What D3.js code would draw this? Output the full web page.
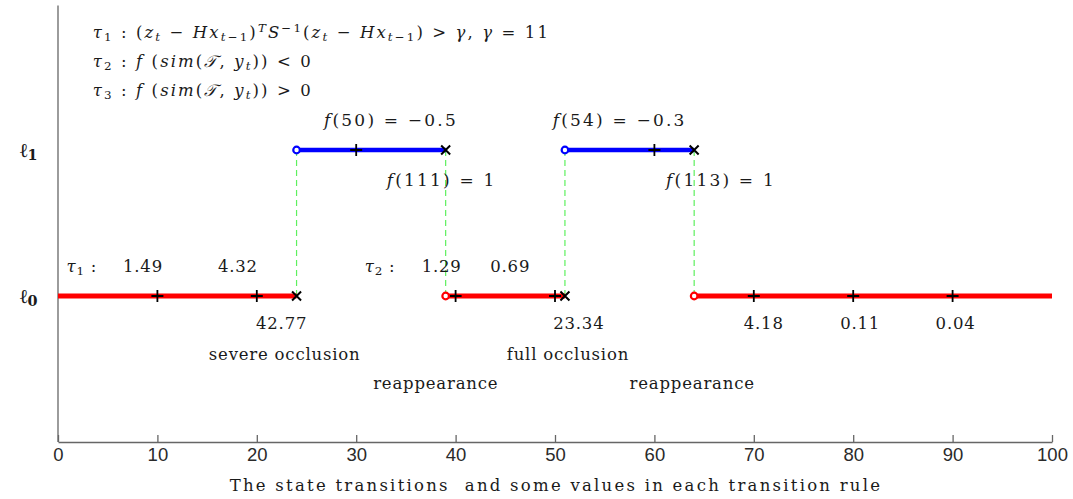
<!DOCTYPE html>
<html><head><meta charset="utf-8">
<script src="https://cdn.jsdelivr.net/npm/d3@7"></script>
<style>
body{margin:0;background:#fff;}
.serif{font-family:"DejaVu Serif",serif;fill:#1a1a1a;white-space:pre;}
</style></head>
<body><svg id="c" width="1073" height="499"></svg>
<script>
// ---- helpers for math-like text ----
const I = s => "<tspan font-style='italic'>"+s+"</tspan>";
const SUB = s => "<tspan baseline-shift='-3' font-size='72%'>"+s+"</tspan>";
const SUP = s => "<tspan baseline-shift='6' font-size='72%'>"+s+"</tspan>";
const TAU = I("τ");

// ---- data ----
const xTicks = [0,10,20,30,40,50,60,70,80,90,100];
const levels = [0,1];                       // ℓ0, ℓ1
const levelLabels = ["ℓ"+SUB("0"),"ℓ"+SUB("1")];
const l0Segments = [[0,24],[39,51],[64,100]];
const l1Segments = [[24,39],[51,64]];
const plusL0 = [10,20,40,50,70,80,90];
const plusL1 = [30,60];
const crossL0 = [24,51];
const crossL1 = [39,64];
const circleL0 = [39,64];
const circleL1 = [24,51];
const transitions = [24,39,51,64];
const ruleValuesAbove = [[TAU+SUB("1")+" :",2.4],["1.49",8.55],["4.32",18.1],[TAU+SUB("2")+" :",32.4],["1.29",38.6],["0.69",45.5]];
const ruleValuesBelow = [["42.77",22.5],["23.34",52.4],["4.18",71.0],["0.11",80.7],["0.04",90.3]];
const events = [["severe occlusion",22.8,-0.40],["full occlusion",51.3,-0.40],["reappearance",38.0,-0.60],["reappearance",63.8,-0.60]];
const fValues = [[I("f")+"(50) = −0.5",33.5,1.205],[I("f")+"(54) = −0.3",56.5,1.205],
                 [I("f")+"(111) = 1",38.6,0.795],[I("f")+"(113) = 1",66.7,0.795]];
const rules = [
  TAU+SUB("1")+" : ("+I("z")+SUB(I("t"))+" − "+I("Hx")+SUB(I("t")+"−1")+")"+SUP(I("T"))+I("S")+SUP("−1")+"("+I("z")+SUB(I("t"))+" − "+I("Hx")+SUB(I("t")+"−1")+") &gt; "+I("γ")+", "+I("γ")+" = 11",
  TAU+SUB("2")+" : "+I("f")+" ("+I("sim")+"("+I("𝒯")+", "+I("y")+SUB(I("t"))+")) &lt; 0",
  TAU+SUB("3")+" : "+I("f")+" ("+I("sim")+"("+I("𝒯")+", "+I("y")+SUB(I("t"))+")) &gt; 0"
];
const ruleY = [1.81,1.61,1.41];
const ruleX = 3.5;
const xTitle = "The state transitions  and some values in each transition rule";

// ---- drawing ----
const svg = d3.select("#c");
const x = d3.scaleLinear().domain([0,100]).range([58,1052]);
const y = d3.scaleLinear().domain([-1,2]).range([442,4]);

// axes
const ax = svg.append("g").attr("transform","translate(0,"+y(-1)+")")
  .call(d3.axisBottom(x).tickValues(xTicks).tickSizeInner(-7).tickSizeOuter(0).tickPadding(6));
ax.select(".domain").attr("stroke","#666").attr("stroke-width",1.3);
ax.selectAll(".tick line").attr("stroke","#666").attr("stroke-width",1.3);
ax.selectAll(".tick text").attr("font-family","'Liberation Sans',Arial,sans-serif").attr("font-size",18.5).attr("fill","#2a2a2a");
svg.append("line").attr("x1",x(0)).attr("x2",x(0)).attr("y1",y(1.99)).attr("y2",y(-1)).attr("stroke","#666").attr("stroke-width",1.3);

// level labels
svg.selectAll(".lvl").data(levels).enter().append("text").attr("class","serif")
  .attr("x",20).attr("y",d=>y(d)).attr("dy","0.35em")
  .attr("font-size",20).attr("font-weight","bold").html((d,i)=>levelLabels[i]);

// transitions (green dashed)
svg.selectAll(".tr").data(transitions).enter().append("line")
  .attr("x1",d=>x(d)).attr("x2",d=>x(d)).attr("y1",y(1)).attr("y2",y(0))
  .attr("stroke","#5ef05e").attr("stroke-width",1.2).attr("stroke-dasharray","6,4");

// segments
function segs(data,level,color,w){
  svg.selectAll(null).data(data).enter().append("line")
    .attr("x1",d=>x(d[0])).attr("x2",d=>x(d[1])).attr("y1",y(level)).attr("y2",y(level))
    .attr("stroke",color).attr("stroke-width",w);
}
segs(l0Segments,0,"#ff0000",5);
segs(l1Segments,1,"#0000ff",4.5);

function plus(data,level){
  svg.selectAll(null).data(data).enter().append("path")
    .attr("d",d=>{const cx=x(d),cy=y(level);return `M${cx-6},${cy}H${cx+6}M${cx},${cy-6}V${cy+6}`;})
    .attr("stroke","#000").attr("stroke-width",1.8);
}
function cross(data,level){
  svg.selectAll(null).data(data).enter().append("path")
    .attr("d",d=>{const cx=x(d),cy=y(level),s=4.5;return `M${cx-s},${cy-s}L${cx+s},${cy+s}M${cx-s},${cy+s}L${cx+s},${cy-s}`;})
    .attr("stroke","#000").attr("stroke-width",2);
}
function circ(data,level,color){
  svg.selectAll(null).data(data).enter().append("circle")
    .attr("cx",d=>x(d)).attr("cy",y(level)).attr("r",3.3)
    .attr("fill","#fff").attr("stroke",color).attr("stroke-width",2.2);
}
plus(plusL0,0); plus(plusL1,1);
cross(crossL0,0); cross(crossL1,1);
circ(circleL0,0,"#ff0000"); circ(circleL1,1,"#0000ff");

// annotations
const fs = 16.5, ls = 0.8;
function ann(data, xf, yf, html){
  svg.selectAll(null).data(data).enter().append("text").attr("class","serif")
    .attr("x",xf).attr("y",yf).attr("dy","0.35em").attr("text-anchor","middle")
    .attr("font-size",fs).attr("letter-spacing",ls).html(html);
}
ann(ruleValuesAbove, d=>x(d[1]), y(0.205), d=>d[0]);
ann(ruleValuesBelow, d=>x(d[1]), y(-0.185), d=>d[0]);
ann(events, d=>x(d[1]), d=>y(d[2]), d=>d[0]);
svg.selectAll(null).data(fValues).enter().append("text").attr("class","serif")
  .attr("x",d=>x(d[1])).attr("y",d=>y(d[2])).attr("dy","0.35em").attr("text-anchor","middle")
  .attr("font-size",17).attr("letter-spacing",2.2).html(d=>d[0]);
svg.selectAll(null).data(rules).enter().append("text").attr("class","serif")
  .attr("x",x(ruleX)).attr("y",(d,i)=>y(ruleY[i])).attr("dy","0.35em")
  .attr("font-size",16.5).attr("letter-spacing",2.1).html(d=>d);

svg.append("text").attr("class","serif").attr("x",556).attr("y",485).attr("dy","0.35em")
  .attr("text-anchor","middle").attr("font-size",16.5).attr("letter-spacing",2.25).text(xTitle);
</script></body></html>
